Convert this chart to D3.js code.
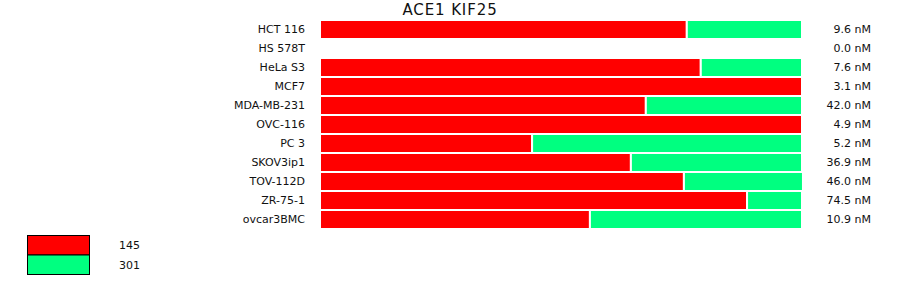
<!DOCTYPE html>
<html>
<head>
<meta charset="utf-8">
<script src="https://cdn.jsdelivr.net/npm/d3@7"></script>
<style>
  body { margin: 0; background: #fff; }
  text { font-family: "DejaVu Sans", Verdana, sans-serif; fill: #111; }
</style>
</head>
<body>
<div class="canvas"></div>
<script>
const cellLines = ['HCT 116', 'HS 578T', 'HeLa S3', 'MCF7', 'MDA-MB-231', 'OVC-116',
    'PC 3', 'SKOV3ip1', 'TOV-112D', 'ZR-75-1', 'ovcar3BMC'];
const share145 = [76.1, 0, 79.0, 100, 67.6, 100, 44.0, 64.5, 75.5, 88.6, 56.0];
const share301 = [23.9, 0, 21.0, 0, 32.4, 0, 56.0, 35.5, 24.7, 11.4, 44.0];
const doseLabels = ['9.6 nM', '0.0 nM', '7.6 nM', '3.1 nM', '42.0 nM', '4.9 nM',
    '5.2 nM', '36.9 nM', '46.0 nM', '74.5 nM', '10.9 nM'];
const seriesNames = ['145', '301'];
const colors = ['#ff0000', '#00ff80'];

const svgDims = { width: 900, height: 299 };

const svg = d3.selectAll('.canvas')
    .append('svg')
    .attr('width', svgDims.width)
    .attr('height', svgDims.height);

const x = d3.scaleLinear()
    .domain([0, 100])
    .range([320, 802]);

const y = d3.scaleBand()
    .domain(cellLines)
    .range([20, 20 + 19 * cellLines.length])
    .padding(0);

// title
svg.append('text')
    .attr('x', 450)
    .attr('y', 15)
    .attr('text-anchor', 'middle')
    .style('font-size', '15px')
    .style('letter-spacing', '0.9px')
    .text('ACE1 KIF25');

// stacked segments
const rows = cellLines.map((c, i) => ({ name: c, vals: [share145[i], share301[i]] }));
const stack = d3.stack().keys([0, 1]).value((d, k) => d.vals[k]);
const layers = stack(rows);

svg.selectAll('g.layer')
    .data(layers)
    .enter()
    .append('g')
        .attr('class', 'layer')
        .attr('fill', (d, i) => colors[i])
    .selectAll('rect')
    .data(d => d.filter(s => s[1] - s[0] > 0))
    .enter()
    .append('rect')
        .attr('x', d => x(d[0]))
        .attr('y', d => y(d.data.name))
        .attr('width', d => x(d[1]) - x(d[0]))
        .attr('height', y.bandwidth())
        .attr('stroke', '#ffffff')
        .attr('stroke-width', 2);

// row labels
svg.selectAll('text.row')
    .data(cellLines)
    .enter()
    .append('text')
        .attr('class', 'row')
        .attr('x', 305)
        .attr('y', d => y(d) + y.bandwidth() / 2)
        .attr('dy', '0.36em')
        .attr('text-anchor', 'end')
        .style('font-size', '11px')
        .text(d => d);

// dose labels
svg.selectAll('text.dose')
    .data(doseLabels)
    .enter()
    .append('text')
        .attr('class', 'dose')
        .attr('x', 871)
        .attr('y', (d, i) => y(cellLines[i]) + y.bandwidth() / 2)
        .attr('dy', '0.36em')
        .attr('text-anchor', 'end')
        .style('font-size', '11px')
        .text(d => d);

// legend
const legend = svg.append('g');
legend.selectAll('rect')
    .data(seriesNames)
    .enter()
    .append('rect')
        .attr('x', 27.5)
        .attr('y', (d, i) => 235.5 + i * 19.5)
        .attr('width', 62)
        .attr('height', 19.5)
        .attr('fill', (d, i) => colors[i])
        .attr('stroke', '#000')
        .attr('stroke-width', 1);
legend.selectAll('text')
    .data(seriesNames)
    .enter()
    .append('text')
        .attr('x', 119)
        .attr('y', (d, i) => 245.5 + i * 20)
        .attr('dy', '0.36em')
        .style('font-size', '11px')
        .text(d => d);
</script>
</body>
</html>
